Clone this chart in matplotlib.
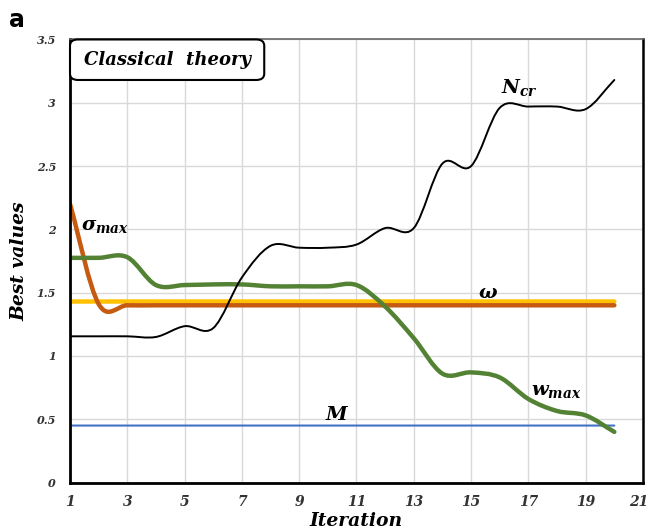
import numpy as np
import matplotlib
matplotlib.use("Agg")
import matplotlib.pyplot as plt
from matplotlib.path import Path
from matplotlib.patches import PathPatch, FancyBboxPatch
from matplotlib.transforms import ScaledTranslation

plt.rcParams["mathtext.fontset"] = "custom"
plt.rcParams["mathtext.it"] = "DejaVu Serif:italic:bold"
plt.rcParams["mathtext.rm"] = "DejaVu Serif:bold"
plt.rcParams["mathtext.bf"] = "DejaVu Serif:bold"

# Best values per iteration (classical theory)
iteration = np.arange(1, 21)
n_cr = [1.155, 1.155, 1.155, 1.15, 1.235, 1.22, 1.62, 1.87, 1.855, 1.855,
        1.88, 2.01, 2.01, 2.52, 2.50, 2.96, 2.97, 2.97, 2.95, 3.18]
w_max = [1.775, 1.775, 1.78, 1.56, 1.56, 1.565, 1.565, 1.55, 1.55, 1.55,
         1.56, 1.39, 1.14, 0.86, 0.87, 0.83, 0.66, 0.565, 0.53, 0.40]
sigma_max = [2.20, 1.41, 1.40, 1.40, 1.40, 1.40, 1.40, 1.40, 1.40, 1.40,
             1.40, 1.40, 1.40, 1.40, 1.40, 1.40, 1.40, 1.40, 1.40, 1.40]
omega = [1.43] * 20
m_val = [0.45] * 20

x_ticks = [1, 3, 5, 7, 9, 11, 13, 15, 17, 19, 21]
y_ticks = [0, 0.5, 1, 1.5, 2, 2.5, 3, 3.5]
y_tick_labels = ["0", "0.5", "1", "1.5", "2", "2.5", "3", "3.5"]


def smooth_path(x, y):
    """Cubic Bezier path through the points (Catmull-Rom style tangents)."""
    x = np.asarray(x, float)
    y = np.asarray(y, float)
    n = len(x)
    s = np.empty(n)
    s[1:-1] = (y[2:] - y[:-2]) / (x[2:] - x[:-2])
    s[0] = (y[1] - y[0]) / (x[1] - x[0])
    s[-1] = (y[-1] - y[-2]) / (x[-1] - x[-2])
    verts = [(x[0], y[0])]
    codes = [Path.MOVETO]
    for i in range(n - 1):
        h = x[i + 1] - x[i]
        verts += [(x[i] + h / 3, y[i] + s[i] * h / 3),
                  (x[i + 1] - h / 3, y[i + 1] - s[i + 1] * h / 3),
                  (x[i + 1], y[i + 1])]
        codes += [Path.CURVE4] * 3
    return Path(verts, codes)


fig = plt.figure(figsize=(6.5, 5.3), dpi=100)
ax = fig.add_axes([0.1077, 0.0896, 0.8815, 0.8359])
ax.set_xlim(1, 21)
ax.set_ylim(0, 3.5)

ax.set_xticks(x_ticks)
ax.set_yticks(y_ticks)
ax.set_yticklabels(y_tick_labels)
ax.grid(True, color="#d9d9d9", lw=1.0)
ax.set_axisbelow(True)
ax.tick_params(length=0)
ax.tick_params(axis="x", pad=9)
ax.tick_params(axis="y", pad=10)
for lab in ax.get_xticklabels():
    lab.set_fontfamily("DejaVu Serif")
    lab.set_fontstyle("italic")
    lab.set_fontweight("bold")
    lab.set_fontsize(10)
    lab.set_color("#333333")
# keep the last x tick label inside the figure edge
last = ax.get_xticklabels()[-1]
last.set_transform(last.get_transform()
                   + ScaledTranslation(-4 / 100, 0, fig.dpi_scale_trans))
for lab in ax.get_yticklabels():
    lab.set_fontfamily("DejaVu Serif")
    lab.set_fontstyle("italic")
    lab.set_fontweight("bold")
    lab.set_fontsize(8)
    lab.set_color("#333333")

ax.spines["left"].set_linewidth(2)
ax.spines["bottom"].set_linewidth(2)
ax.spines["left"].set_color("black")
ax.spines["bottom"].set_color("black")
ax.spines["top"].set_linewidth(1.2)
ax.spines["top"].set_color("#666666")
ax.spines["right"].set_linewidth(1.8)
ax.spines["right"].set_color("black")

series = [
    (m_val, "#4472C4", 1.5),
    (omega, "#FFC000", 3.2),
    (sigma_max, "#C55A11", 3.2),
    (w_max, "#548235", 3.2),
    (n_cr, "black", 1.4),
]
for vals, color, lw in series:
    ax.add_patch(PathPatch(smooth_path(iteration, vals), fill=False,
                           edgecolor=color, lw=lw, capstyle="round",
                           joinstyle="round"))

lbl = dict(fontsize=14, color="black", va="center", ha="left")
ax.text(1.38, 2.03, r"$\sigma_{max}$", **lbl)
ax.text(16.05, 3.12, r"$N_{cr}$", **lbl)
ax.text(15.25, 1.50, r"$\omega$", **lbl)
ax.text(17.1, 0.73, r"$w_{max}$", **lbl)
ax.text(9.9, 0.54, r"$M$", **lbl)

box = FancyBboxPatch((0.0, 0.9086), 0.339, 0.0914,
                     boxstyle="round,pad=0,rounding_size=0.014",
                     transform=ax.transAxes, facecolor="white",
                     edgecolor="black", lw=1.5, zorder=5, clip_on=False)
ax.add_patch(box)
ax.text(0.1695, 0.954, "Classical  theory", transform=ax.transAxes,
        ha="center", va="center", fontsize=13, fontfamily="DejaVu Serif",
        fontstyle="italic", fontweight="bold", zorder=6)

ax.set_xlabel("Iteration", fontsize=13.5, fontfamily="DejaVu Serif",
              fontstyle="italic", fontweight="bold", labelpad=2)
ax.set_ylabel("Best values", fontsize=13.5, fontfamily="DejaVu Serif",
              fontstyle="italic", fontweight="bold", labelpad=6)

fig.text(0.014, 0.985, "a", fontsize=17, fontweight="bold",
         fontfamily="DejaVu Sans", va="top", ha="left")

fig.savefig("out.png", dpi=100)
